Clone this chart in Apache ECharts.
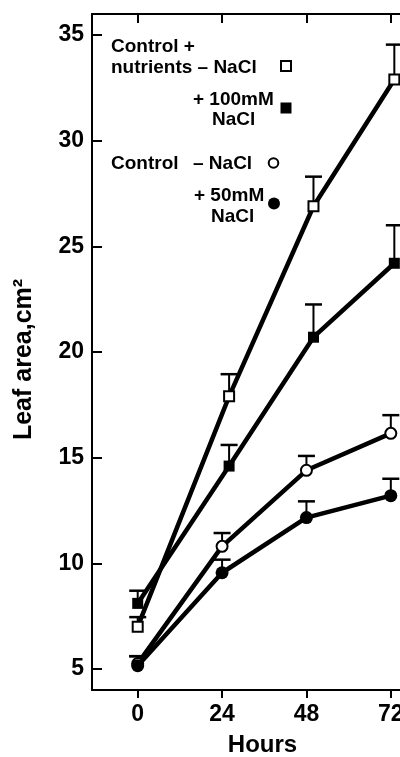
<!DOCTYPE html>
<html><head><meta charset="utf-8">
<script src="https://cdn.jsdelivr.net/npm/echarts@6/dist/echarts.min.js"></script>
<style>html,body{margin:0;padding:0;background:#fff}#c{width:400px;height:757px}</style>
</head><body><div id="c"></div>
<script>
// ---- data ----
const xTicks = [0, 24, 48, 72];
const yTicks = [5, 10, 15, 20, 25, 30, 35];
const hoursCircles = [0, 24, 48, 72];
const hoursSquares = [0, 26, 50, 73];
const nutrientsNoNaCl = [7.0, 17.9, 26.9, 32.9];
const nutrientsNoNaClErr = [0.45, 1.05, 1.4, 1.65];
const nutrients100 = [8.1, 14.6, 20.7, 24.2];
const nutrients100Err = [0.6, 1.0, 1.55, 1.8];
const controlNoNaCl = [5.25, 10.8, 14.4, 16.15];
const controlNoNaClErr = [0.35, 0.63, 0.68, 0.86];
const control50 = [5.15, 9.55, 12.16, 13.2];
const control50Err = [0.45, 0.62, 0.77, 0.8];
const xName = 'Hours';
const yName = 'Leaf area,cm\u00B2';

const FONT = '"Liberation Sans", Arial, Helvetica, sans-serif';

function pts(xs, ys) { return xs.map((x, i) => [x, ys[i]]); }
function errPts(xs, ys, es) { return xs.map((x, i) => [x, ys[i], ys[i] + es[i]]); }

function errRender(params, api) {
  const x = api.value(0), y = api.value(1), top = api.value(2);
  const p0 = api.coord([x, y]);
  const p1 = api.coord([x, top]);
  const half = 8.5;
  return {
    type: 'group',
    children: [
      { type: 'line', shape: { x1: p0[0], y1: p0[1], x2: p1[0], y2: p1[1] }, style: { stroke: '#000', lineWidth: 2 } },
      { type: 'line', shape: { x1: p1[0] - half, y1: p1[1], x2: p1[0] + half, y2: p1[1] }, style: { stroke: '#000', lineWidth: 2.5 } }
    ]
  };
}

function errSeries(data) {
  return { type: 'custom', renderItem: errRender, data: data, encode: { x: 0, y: 1 }, z: 1, silent: true };
}
function lineSeries(data, symbol, size, open) {
  return {
    type: 'line', data: data, symbol: symbol, symbolSize: size, z: 3,
    lineStyle: { color: '#000', width: 4.5 },
    itemStyle: { color: '#000', borderColor: '#000', borderWidth: open ? 2 : 0 },
    emphasis: { disabled: true }
  };
}

const legendFont = 'bold 19px ' + FONT;
function txt(t, x, y) {
  return { type: 'text', x: x, y: y, style: { text: t, font: legendFont, fill: '#000', verticalAlign: 'middle', align: 'left' } };
}

const chart = echarts.init(document.getElementById('c'));
chart.setOption({
  animation: false,
  backgroundColor: '#fff',
  textStyle: { fontFamily: FONT },
  grid: { left: 92, top: 14, width: 341, height: 676, outerBoundsMode: 'none', containLabel: false },
  xAxis: [
    {
      type: 'value', position: 'bottom', min: -13, max: 84,
      axisLine: { show: true, onZero: false, lineStyle: { color: '#000', width: 2 } },
      axisTick: { show: true, inside: false, length: 8, lineStyle: { color: '#000', width: 2 }, customValues: xTicks },
      axisLabel: { customValues: xTicks, fontSize: 23, fontWeight: 'bold', color: '#000', margin: 13, fontFamily: FONT },
      splitLine: { show: false },
      name: xName, nameLocation: 'middle', nameGap: 43,
      nameTextStyle: { fontSize: 24, fontWeight: 'bold', color: '#000', fontFamily: FONT }
    },
    {
      type: 'value', position: 'top', min: -13, max: 84,
      axisLine: { show: true, onZero: false, lineStyle: { color: '#000', width: 2 } },
      axisTick: { show: true, inside: true, length: 9, lineStyle: { color: '#000', width: 2 }, customValues: xTicks },
      axisLabel: { show: false },
      splitLine: { show: false }
    }
  ],
  yAxis: {
    type: 'value', min: 4, max: 36,
    axisLine: { show: true, onZero: false, lineStyle: { color: '#000', width: 2 } },
    axisTick: { show: true, inside: true, length: 10, lineStyle: { color: '#000', width: 2 }, customValues: yTicks },
    axisLabel: { customValues: yTicks, fontSize: 23, fontWeight: 'bold', color: '#000', margin: 8, fontFamily: FONT },
    splitLine: { show: false },
    name: yName, nameLocation: 'middle', nameGap: 55, nameRotate: 90,
    nameTextStyle: { fontSize: 25, fontWeight: 'bold', color: '#000', fontFamily: FONT, padding: [0, 15, 0, 0] }
  },
  series: [
    errSeries(errPts(hoursSquares, nutrientsNoNaCl, nutrientsNoNaClErr)),
    errSeries(errPts(hoursSquares, nutrients100, nutrients100Err)),
    errSeries(errPts(hoursCircles, controlNoNaCl, controlNoNaClErr)),
    errSeries(errPts(hoursCircles, control50, control50Err)),
    lineSeries(pts(hoursSquares, nutrientsNoNaCl), 'emptyRect', 10, true),
    lineSeries(pts(hoursSquares, nutrients100), 'rect', 11, false),
    lineSeries(pts(hoursCircles, controlNoNaCl), 'emptyCircle', 11, true),
    lineSeries(pts(hoursCircles, control50), 'circle', 13, false)
  ],
  graphic: [
    txt('Control +', 111, 47),
    txt('nutrients \u2013 NaCl', 111, 68),
    txt('+ 100mM', 193, 99.5),
    txt('NaCl', 212, 120),
    txt('Control', 111, 163.5),
    txt('\u2013 NaCl', 193, 163.5),
    txt('+ 50mM', 194, 196),
    txt('NaCl', 211, 216.5),
    { type: 'rect', shape: { x: 281, y: 61, width: 10, height: 10 }, style: { fill: '#fff', stroke: '#000', lineWidth: 2 } },
    { type: 'rect', shape: { x: 280.5, y: 102.5, width: 11, height: 11 }, style: { fill: '#000' } },
    { type: 'circle', shape: { cx: 273.5, cy: 163, r: 4.8 }, style: { fill: '#fff', stroke: '#000', lineWidth: 2 } },
    { type: 'circle', shape: { cx: 274, cy: 203.5, r: 6 }, style: { fill: '#000' } }
  ]
});
</script></body></html>
